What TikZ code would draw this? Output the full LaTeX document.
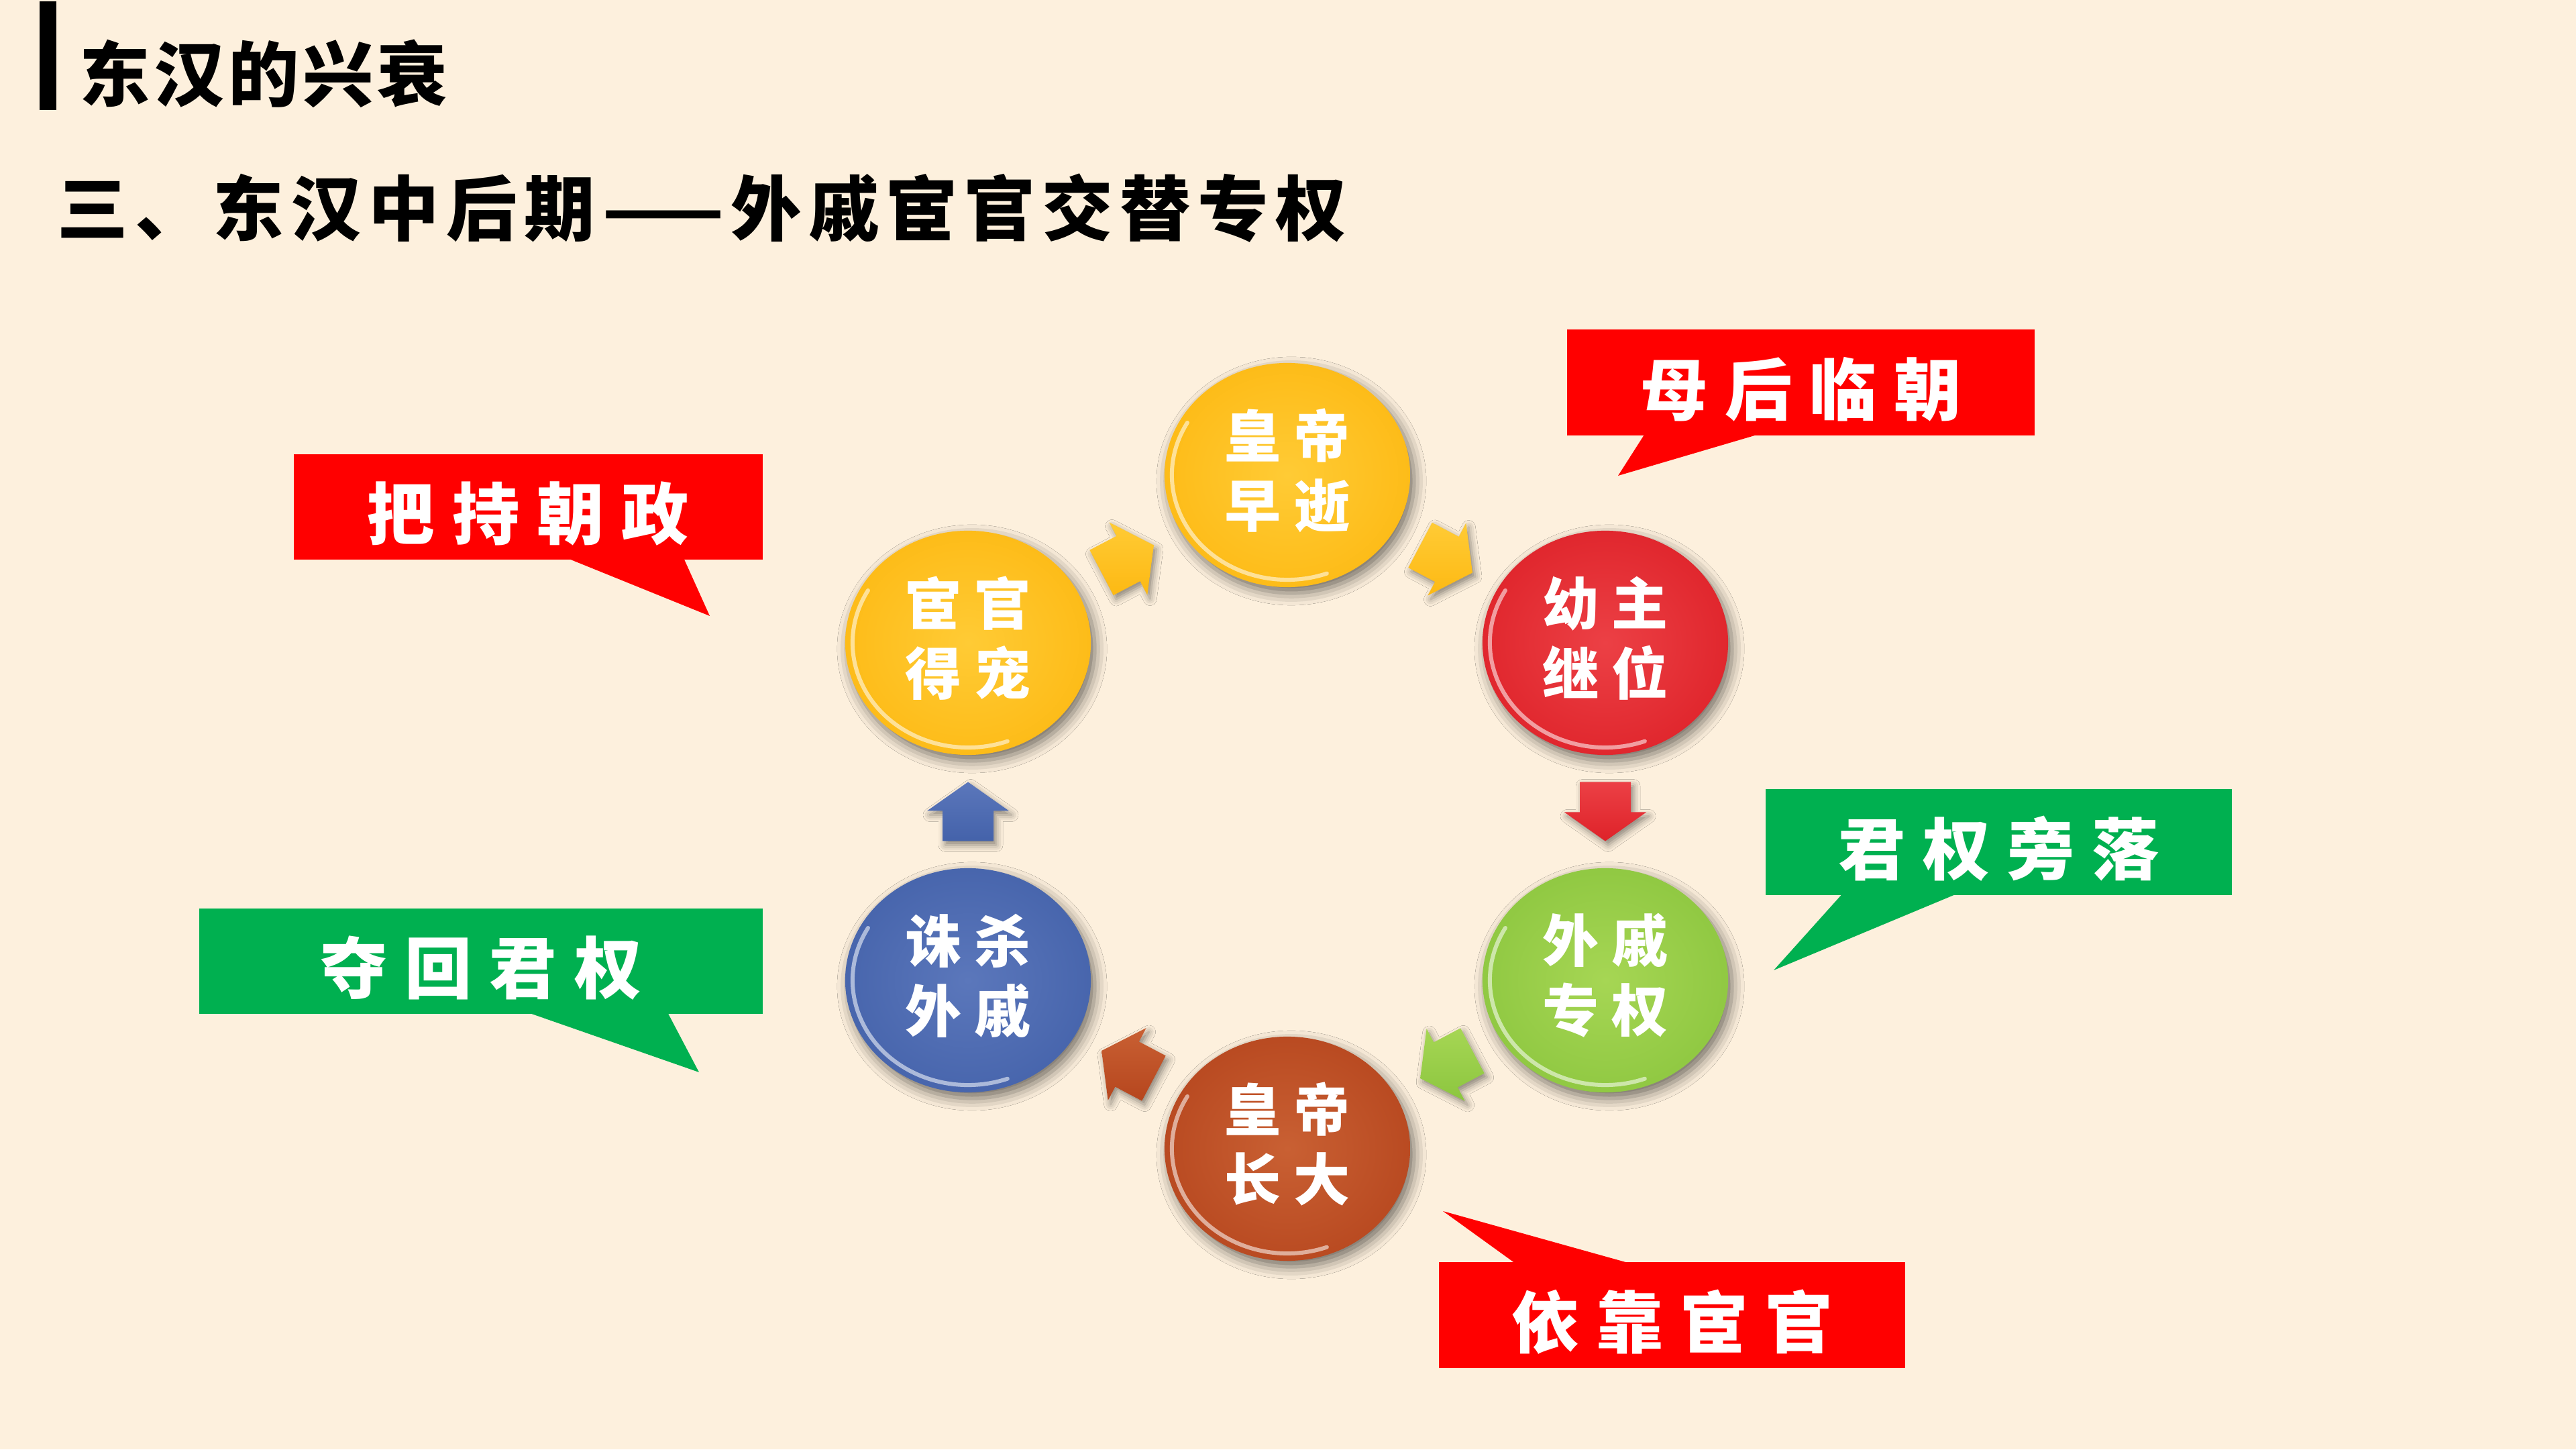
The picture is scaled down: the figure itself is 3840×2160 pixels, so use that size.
\documentclass[tikz,border=0pt]{standalone}
\usepackage{fontspec}
\usetikzlibrary{calc,shapes.geometric,shadows.blur}
\newfontfamily\titlefont[LetterSpace=5]{Noto Sans CJK SC}
\newfontfamily\subfont[LetterSpace=10]{Noto Sans CJK SC}
\newfontfamily\calfont[LetterSpace=26]{Noto Sans CJK SC}
\newfontfamily\discfont[LetterSpace=23]{Noto Sans CJK SC}
\definecolor{bg}{HTML}{FDF0DD}
\definecolor{calred}{HTML}{FF0000}
\definecolor{calgreen}{HTML}{00B050}
\definecolor{yIn}{HTML}{FFCB35}\definecolor{yMid}{HTML}{FDB913}\definecolor{yOut}{HTML}{EBA00A}
\definecolor{rIn}{HTML}{EC4045}\definecolor{rMid}{HTML}{DE2229}\definecolor{rOut}{HTML}{BE131A}
\definecolor{gIn}{HTML}{A6D654}\definecolor{gMid}{HTML}{8CC63F}\definecolor{gOut}{HTML}{6EA42A}
\definecolor{oIn}{HTML}{C96033}\definecolor{oMid}{HTML}{B6461E}\definecolor{oOut}{HTML}{953312}
\definecolor{bIn}{HTML}{5B77BB}\definecolor{bMid}{HTML}{4462AA}\definecolor{bOut}{HTML}{2E4788}
\pgfdeclareradialshading{glossyY}{\pgfpoint{0bp}{0bp}}{color(0bp)=(yIn); color(30bp)=(yMid); color(45bp)=(yMid); color(50bp)=(yOut)}
\pgfdeclareradialshading{glossyR}{\pgfpoint{0bp}{0bp}}{color(0bp)=(rIn); color(30bp)=(rMid); color(45bp)=(rMid); color(50bp)=(rOut)}
\pgfdeclareradialshading{glossyG}{\pgfpoint{0bp}{0bp}}{color(0bp)=(gIn); color(30bp)=(gMid); color(45bp)=(gMid); color(50bp)=(gOut)}
\pgfdeclareradialshading{glossyO}{\pgfpoint{0bp}{0bp}}{color(0bp)=(oIn); color(30bp)=(oMid); color(45bp)=(oMid); color(50bp)=(oOut)}
\pgfdeclareradialshading{glossyB}{\pgfpoint{0bp}{0bp}}{color(0bp)=(bIn); color(30bp)=(bMid); color(45bp)=(bMid); color(50bp)=(bOut)}
\newcommand\blockarr[4]{%
  \begin{scope}[shift={($(#1)!0.5!(#2)$)}, rotate=#3]
    \shade[blockarrow, top color=#4In, bottom color=#4Mid]
      (-44,38) -- (1,38) -- (1,61) -- (44,0) -- (1,-61) -- (1,-38) -- (-44,-38) -- cycle;
  \end{scope}}
\newcommand\glint[1]{%
  \draw[glint] ([shift={(150:1.72cm and 1.56cm)}]#1.center)
    arc[start angle=150, end angle=290, x radius=1.72cm, y radius=1.56cm];}
\begin{document}
\begin{tikzpicture}[x=0.01cm, y=0.01cm,
  disc/.style={ellipse, minimum width=3.66cm, minimum height=3.34cm, inner sep=0pt, shade,
    blur shadow={shadow xshift=0.06cm, shadow yshift=-0.09cm, shadow blur radius=0.18cm, shadow opacity=55}},
  disctext/.style={inner sep=0pt, text=white, align=center,
    font=\discfont\bfseries\fontsize{23.9}{29.6}\selectfont},
  glint/.style={white, line width=0.06cm, opacity=0.55, line cap=round},
  blockarrow/.style={blur shadow={shadow xshift=0.04cm, shadow yshift=-0.06cm, shadow blur radius=0.1cm, shadow opacity=45}},
  callbox/.style={inner sep=0pt, minimum height=1.57cm},
  caltext/.style={inner sep=0pt, text=white,
    font=\calfont\bfseries\fontsize{28.5}{34}\selectfont},
  heading/.style={anchor=west, inner sep=0pt, text=black,
    font=\titlefont\bfseries\fontsize{30}{36}\selectfont}
]
\useasboundingbox (0,0) rectangle (3840,2160);
\fill[bg] (0,0) rectangle (3840,2160);

% header
\node[fill=black, anchor=south west, inner sep=0pt, minimum width=0.25cm, minimum height=1.62cm] (bar) at (58,1995) {};
\node[heading] (title) at (118,2050) {东汉的兴衰};
\node[heading, font=\subfont\bfseries\fontsize{30}{36}\selectfont] (sub) at (85,1850) {三、东汉中后期——外戚宦官交替专权};

% cycle of discs
\node[disc, shading=glossyY] (top) at (1919,1452) {};
\node[disc, shading=glossyY] (ul)  at (1443,1202) {};
\node[disc, shading=glossyR] (ur)  at (2393,1202) {};
\node[disc, shading=glossyG] (lr)  at (2393,699)  {};
\node[disc, shading=glossyO] (bot) at (1919,448)  {};
\node[disc, shading=glossyB] (ll)  at (1443,699)  {};
\glint{top}\glint{ul}\glint{ur}\glint{lr}\glint{bot}\glint{ll}
\node[disctext] (toptx) at ([yshift=0.07cm]top.center) {皇帝\\早逝};
\node[disctext] (ultx)  at ([yshift=0.07cm]ul.center)  {宦官\\得宠};
\node[disctext] (urtx)  at ([yshift=0.07cm]ur.center)  {幼主\\继位};
\node[disctext] (lrtx)  at ([yshift=0.07cm]lr.center)  {外戚\\专权};
\node[disctext] (bottx) at ([yshift=0.07cm]bot.center) {皇帝\\长大};
\node[disctext] (lltx)  at ([yshift=0.07cm]ll.center)  {诛杀\\外戚};

% arrows between discs
\blockarr{ul}{top}{27.7}{y}
\blockarr{top}{ur}{-27.8}{y}
\blockarr{ur}{lr}{-90}{r}
\blockarr{lr}{bot}{207.9}{g}
\blockarr{bot}{ll}{152.2}{o}
\blockarr{ll}{ul}{90}{b}

% callouts
\node[callbox, fill=calred, minimum width=6.97cm] (m1) at (2684.5,1590) {};
\coordinate (t1) at (2412,1451);
\fill[calred] ($(m1.south west)+(117,3)$) -- ($(m1.south west)+(290,3)$) -- (t1) -- cycle;
\node[caltext] (m1tx) at ([yshift=-0.1cm]m1.center) {母后临朝};

\node[callbox, fill=calred, minimum width=6.99cm] (m2) at (787.5,1404.5) {};
\coordinate (t2) at (1058,1242);
\fill[calred] ($(m2.south west)+(408,3)$) -- ($(m2.south west)+(582,3)$) -- (t2) -- cycle;
\node[caltext] (m2tx) at ([yshift=-0.1cm]m2.center) {把持朝政};

\node[callbox, fill=calgreen, minimum width=6.95cm] (m3) at (2979.5,905) {};
\coordinate (t3) at (2644,714);
\fill[calgreen] ($(m3.south west)+(116,3)$) -- ($(m3.south west)+(288,3)$) -- (t3) -- cycle;
\node[caltext] (m3tx) at ([yshift=-0.1cm]m3.center) {君权旁落};

\node[callbox, fill=calgreen, minimum width=8.40cm] (m4) at (717,727.5) {};
\coordinate (t4) at (1042,562);
\fill[calgreen] ($(m4.south west)+(490,3)$) -- ($(m4.south west)+(699,3)$) -- (t4) -- cycle;
\node[caltext] (m4tx) at ([yshift=-0.1cm]m4.center) {夺回君权};

\node[callbox, fill=calred, minimum width=6.95cm] (m5) at (2492.5,200) {};
\coordinate (t5) at (2151,355);
\fill[calred] ($(m5.north west)+(116,-3)$) -- ($(m5.north west)+(289,-3)$) -- (t5) -- cycle;
\node[caltext] (m5tx) at ([yshift=-0.1cm]m5.center) {依靠宦官};
\end{tikzpicture}
\end{document}
